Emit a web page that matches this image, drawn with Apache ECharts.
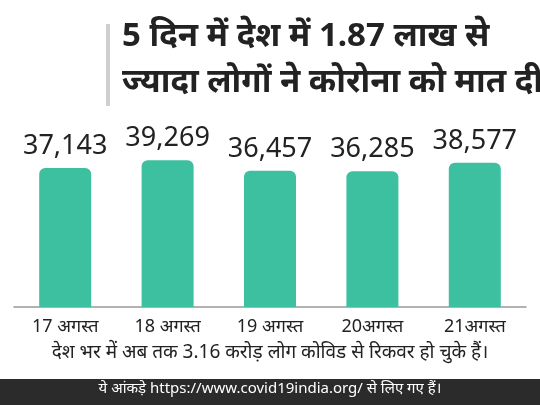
<!DOCTYPE html>
<html>
<head>
<meta charset="utf-8">
<script src="https://cdn.jsdelivr.net/npm/echarts@6/dist/echarts.min.js"></script>
<style>
  html, body { margin: 0; padding: 0; background: #fff; }
  #main { width: 540px; height: 405px; }
</style>
</head>
<body>
<div id="main"></div>
<script>
  // 数据
  var categories = ['17 अगस्त', '18 अगस्त', '19 अगस्त', '20अगस्त', '21अगस्त'];
  var values = [37143, 39269, 36457, 36285, 38577];
  var titleLines = ['5 दिन में देश में 1.87 लाख से', 'ज्यादा लोगों ने कोरोना को मात दी'];
  var note = 'देश भर में अब तक 3.16 करोड़ लोग कोविड से रिकवर हो चुके हैं।';
  var source = 'ये आंकड़े https://www.covid19india.org/ से लिए गए हैं।';

  var font = '"Noto Sans", "Noto Sans Devanagari", sans-serif';
  var chart = echarts.init(document.getElementById('main'));
  chart.setOption({
    backgroundColor: '#fff',
    textStyle: { fontFamily: font },
    graphic: [
      { type: 'rect', shape: { x: 106, y: 24, width: 4, height: 82 }, style: { fill: '#cfcfcf' } },
      { type: 'text', left: 122, top: 20, style: { text: titleLines[0], font: 'bold 33px ' + font, fill: '#222' } },
      { type: 'text', left: 122, top: 66, style: { text: titleLines[1], font: 'bold 33px ' + font, fill: '#222' } },
      { type: 'text', left: 'center', top: 343, style: { text: note, font: '19px ' + font, fill: '#222' } },
      { type: 'rect', shape: { x: 0, y: 379, width: 540, height: 26 }, style: { fill: '#2b2b2b' } },
      { type: 'text', left: 'center', top: 381, style: { text: source, font: '15px ' + font, fill: '#fff' } }
    ],
    grid: { left: 14, right: 14, top: 120, bottom: 98 },
    xAxis: {
      type: 'category',
      data: categories,
      axisLine: { lineStyle: { color: '#999', width: 1.5 } },
      axisTick: { show: false },
      axisLabel: { color: '#222', fontSize: 18, margin: 11 }
    },
    yAxis: { type: 'value', min: 0, max: 50000, show: false, splitLine: { show: false } },
    series: [{
      type: 'bar',
      data: values,
      barWidth: 52,
      itemStyle: { color: '#3cc09f', borderRadius: [6, 6, 0, 0] },
      label: {
        show: true,
        position: 'top',
        distance: 8,
        color: '#222',
        fontSize: 27,
        formatter: function (p) { return p.value.toLocaleString('en-US'); }
      }
    }]
  });
</script>
</body>
</html>
